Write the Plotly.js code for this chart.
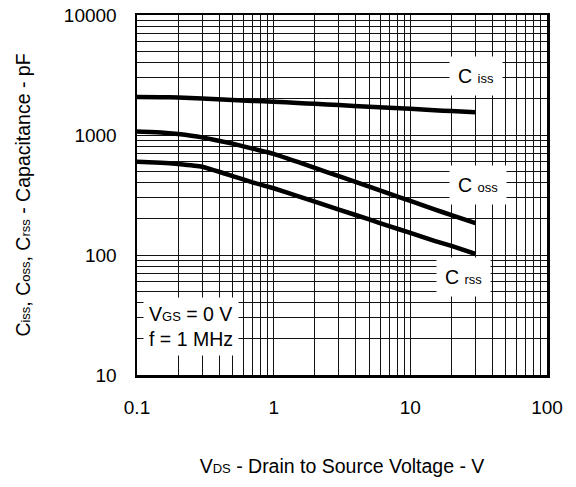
<!DOCTYPE html>
<html>
<head>
<meta charset="utf-8">
<script src="https://cdn.plot.ly/plotly-3.0.1.min.js"></script>
<style>html,body{margin:0;padding:0;background:#fff;}#chart{width:576px;height:487px;}</style>
</head>
<body>
<div id="chart"></div>
<script>
// Drain-to-source voltage (V)
const vds = [0.1, 0.15, 0.2, 0.3, 0.5, 0.7, 1, 1.5, 2, 3, 5, 7, 10, 15, 20, 30];
// Capacitances (pF)
const ciss = [2073, 2065, 2053, 2015, 1957, 1924, 1895, 1849, 1818, 1775, 1721, 1686, 1651, 1610, 1582, 1546];
const coss = [1069, 1051, 1019, 955, 848, 770, 697, 596, 532, 454, 371, 324, 283, 240, 215, 184];
const crss = [599, 587, 573, 544, 455, 403, 360, 310, 279, 239, 198, 174, 153, 131, 119, 102];
// Axis tick labels
const xTickVals = [0.1, 1, 10, 100];
const xTickText = ["0.1", "1", "10", "100"];
const yTickVals = [10, 100, 1000, 10000];
const yTickText = ["10", "100", "1000", "10000"];

function minorVals(d0, d1) {
  const v = [];
  for (let e = d0; e < d1; e++) for (let m = 2; m <= 9; m++) v.push(m * Math.pow(10, e));
  return v;
}

const FONT = '"Liberation Sans", Arial, sans-serif';
const lineStyle = {color: '#000', width: 4.5, shape: 'spline', smoothing: 0.3};
const traces = [
  {x: vds, y: ciss, mode: 'lines', line: lineStyle, name: 'Ciss', hoverinfo: 'skip'},
  {x: vds, y: coss, mode: 'lines', line: lineStyle, name: 'Coss', hoverinfo: 'skip'},
  {x: vds, y: crss, mode: 'lines', line: lineStyle, name: 'Crss', hoverinfo: 'skip'}
];

const gridCol = '#111';
const sub = (s, sz) => '<span style="font-size:' + (sz || 13) + 'px">' + s + '</span>';
const layout = {
  width: 576, height: 487,
  margin: {l: 137, r: 29, t: 15, b: 112},
  paper_bgcolor: '#fff', plot_bgcolor: '#fff',
  showlegend: false,
  font: {family: FONT, size: 19, color: '#000'},
  xaxis: {
    type: 'log', range: [-1, 2],
    tickvals: xTickVals, ticktext: xTickText, ticks: '', ticklabelstandoff: 14,
    showgrid: true, gridcolor: gridCol, gridwidth: 1,
    minor: {tickvals: minorVals(-1, 2), showgrid: true, gridcolor: gridCol, gridwidth: 1, ticks: ''},
    showline: true, linecolor: '#000', linewidth: 2.5, mirror: true, zeroline: false,
    tickfont: {size: 19},
    title: {text: 'V' + sub('DS') + ' - Drain to Source Voltage - V', font: {size: 19.5}, standoff: 42}
  },
  yaxis: {
    type: 'log', range: [1, 4],
    tickvals: yTickVals, ticktext: yTickText, ticks: '', ticklabelstandoff: 14,
    showgrid: true, gridcolor: gridCol, gridwidth: 1,
    minor: {tickvals: minorVals(1, 4), showgrid: true, gridcolor: gridCol, gridwidth: 1, ticks: ''},
    showline: true, linecolor: '#000', linewidth: 2.5, mirror: true, zeroline: false,
    tickfont: {size: 19},
    title: {text: 'C' + sub('iss') + ', C' + sub('oss') + ', C' + sub('rss') + ' - Capacitance - pF', font: {size: 19.5}, standoff: 28}
  },
  annotations: [
    {xref: 'paper', yref: 'paper', x: (476 - 137) / 410, y: (375 - 76) / 360, text: 'C ' + sub('iss'),
     showarrow: false, bgcolor: '#fff', font: {size: 19.5}, borderpad: 8, xanchor: 'center', yanchor: 'middle'},
    {xref: 'paper', yref: 'paper', x: (478 - 137) / 410, y: (375 - 185) / 360, text: 'C ' + sub('oss'),
     showarrow: false, bgcolor: '#fff', font: {size: 19.5}, borderpad: 8, xanchor: 'center', yanchor: 'middle'},
    {xref: 'paper', yref: 'paper', x: (463 - 137) / 410, y: (375 - 277) / 360, text: 'C ' + sub('rss'),
     showarrow: false, bgcolor: '#fff', font: {size: 19.5}, borderpad: 8, xanchor: 'center', yanchor: 'middle'},
    {xref: 'paper', yref: 'paper', x: (143 - 137) / 410, y: (375 - 326) / 360,
     text: 'V' + sub('GS') + ' = 0 V<br>f = 1 MHz', align: 'left',
     showarrow: false, bgcolor: '#fff', font: {size: 19.5}, borderpad: 5, xanchor: 'left', yanchor: 'middle'}
  ]
};

Plotly.newPlot('chart', traces, layout, {staticPlot: true, displayModeBar: false});
</script>
</body>
</html>
